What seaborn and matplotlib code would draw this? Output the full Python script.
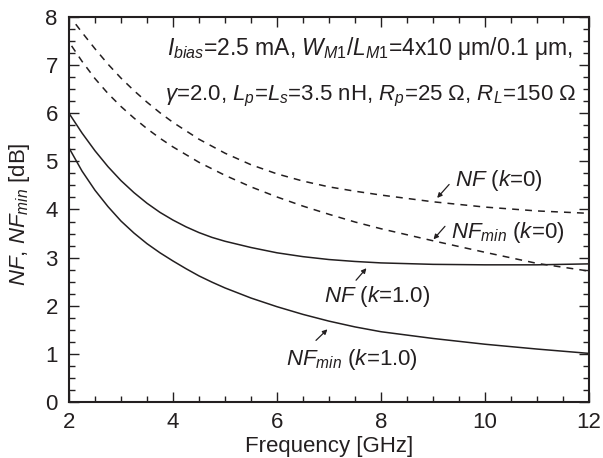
import numpy as np
import pandas as pd
import matplotlib
matplotlib.use("Agg")
import matplotlib.pyplot as plt
import seaborn as sns

# ---- data ----
freq_k1 = [2.0, 2.25, 2.5, 2.75, 3.0, 3.25, 3.5, 3.75, 4.0, 4.25, 4.5, 4.75, 5.0,
           5.5, 6.0, 6.5, 7.0, 7.5, 8.0, 9.0, 10.0, 11.0, 12.0]
nf_k1 = [6.00, 5.59, 5.22, 4.89, 4.60, 4.35, 4.13, 3.94, 3.78, 3.64, 3.52, 3.42, 3.34,
         3.21, 3.10, 3.02, 2.96, 2.92, 2.89, 2.86, 2.85, 2.85, 2.87]
nfmin_k1 = [5.28, 4.80, 4.40, 4.06, 3.76, 3.51, 3.29, 3.10, 2.93, 2.77, 2.62, 2.49, 2.37,
            2.16, 1.98, 1.82, 1.68, 1.56, 1.46, 1.32, 1.20, 1.10, 1.01]

freq_nf_k0 = [2.13, 2.25, 2.5, 2.75, 3.0, 3.25, 3.5, 3.75, 4.0, 4.5, 5.0, 5.5, 6.0,
              6.5, 7.0, 7.5, 8.0, 9.0, 10.0, 11.0, 12.0]
nf_k0 = [7.85, 7.68, 7.34, 7.02, 6.73, 6.47, 6.23, 6.01, 5.81, 5.46, 5.17, 4.93, 4.74,
         4.59, 4.47, 4.38, 4.30, 4.16, 4.05, 3.97, 3.92]

freq_nfmin_k0 = [2.05, 2.25, 2.5, 2.75, 3.0, 3.25, 3.5, 3.75, 4.0, 4.5, 5.0, 5.5, 6.0,
                 6.5, 7.0, 7.5, 8.0, 9.0, 10.0, 11.0, 12.0]
nfmin_k0 = [7.40, 7.08, 6.72, 6.41, 6.14, 5.90, 5.68, 5.48, 5.30, 4.98, 4.71, 4.47, 4.26,
            4.07, 3.90, 3.74, 3.60, 3.35, 3.11, 2.88, 2.72]

x_ticks = [2, 4, 6, 8, 10, 12]
y_ticks = [0, 1, 2, 3, 4, 5, 6, 7, 8]

line1 = r"$I_{bias}$=2.5 mA, $W_{\mathit{M1}}$/$L_{\mathit{M1}}$=4x10 μm/0.1 μm,"
line2 = r"$\mathit{γ}$=2.0, $L_p$=$L_s$=3.5 nH, $R_p$=25 Ω, $R_L$=150 Ω"

# ---- style ----
sns.set_style("ticks")
plt.rcParams["font.family"] = ["Liberation Sans", "DejaVu Sans"]
plt.rcParams["mathtext.fontset"] = "custom"
plt.rcParams["mathtext.rm"] = "Liberation Sans"
plt.rcParams["mathtext.it"] = "Liberation Sans:italic"
plt.rcParams["mathtext.bf"] = "Liberation Sans:bold"

ink = "#231f20"
fs = 16

fig = plt.figure(figsize=(6.03, 4.58), dpi=100)
ax = fig.add_axes([0.1144, 0.1223, 0.8624, 0.8406])

df1 = pd.DataFrame({"f": freq_k1, "nf": nf_k1, "nfmin": nfmin_k1})
df2 = pd.DataFrame({"f": freq_nf_k0, "v": nf_k0})
df3 = pd.DataFrame({"f": freq_nfmin_k0, "v": nfmin_k0})

lw = 1.1
sns.lineplot(data=df1, x="f", y="nf", ax=ax, color=ink, lw=lw)
sns.lineplot(data=df1, x="f", y="nfmin", ax=ax, color=ink, lw=lw)
sns.lineplot(data=df2, x="f", y="v", ax=ax, color=ink, lw=lw, linestyle=(0, (4.5, 4)))
sns.lineplot(data=df3, x="f", y="v", ax=ax, color=ink, lw=lw, linestyle=(0, (4.5, 4)))

ax.set_xlim(2, 12)
ax.set_ylim(0, 8)
ax.set_xticks(x_ticks)
ax.set_yticks(y_ticks)
ax.set_xticks(np.arange(2, 12.01, 0.5), minor=True)
ax.set_yticks(np.arange(0, 8.01, 0.25), minor=True)
ax.tick_params(which="both", direction="in", top=True, right=True, color=ink, labelcolor=ink, labelsize=fs)
ax.tick_params(which="major", length=7, width=1.0)
ax.tick_params(axis="x", which="major", pad=7.5)
ax.tick_params(axis="y", which="major", pad=8)
ax.tick_params(which="minor", length=4, width=1.0)
for s in ax.spines.values():
    s.set_linewidth(1.5)
    s.set_color(ink)

ax.set_xlabel("Frequency [GHz]", fontsize=fs, color=ink, labelpad=2)
ax.set_ylabel(r"$\mathit{NF}$, $\mathit{NF}_{\mathit{min}}$ [dB]", fontsize=fs, color=ink)
ax.yaxis.set_label_coords(-0.071, 0.487)

ax.text(3.88, 7.21, line1, fontsize=16.5, color=ink, va="baseline", ha="left")
ax.text(3.85, 6.26, line2, fontsize=16, color=ink, va="baseline", ha="left")

labels = [
    (r"$\mathit{NF}$ ($\mathit{k}$=0)", (9.42, 4.48), (9.31, 4.52), (9.08, 4.24)),
    (r"$\mathit{NF}_{\mathit{min}}$ ($\mathit{k}$=0)", (9.34, 3.40), (9.23, 3.65), (9.01, 3.38)),
    (r"$\mathit{NF}$ ($\mathit{k}$=1.0)", (6.91, 2.08), (7.52, 2.53), (7.72, 2.78)),
    (r"$\mathit{NF}_{\mathit{min}}$ ($\mathit{k}$=1.0)", (6.17, 0.76), (6.75, 1.28), (6.97, 1.51)),
]
for txt, pos, tail, head in labels:
    ax.text(pos[0], pos[1], txt, fontsize=fs, color=ink, va="baseline", ha="left")
    ax.annotate("", xy=head, xytext=tail,
                arrowprops=dict(arrowstyle="-|>", color=ink, lw=0.9,
                                mutation_scale=7, shrinkA=0, shrinkB=0))

fig.savefig("out.png", dpi=100)
